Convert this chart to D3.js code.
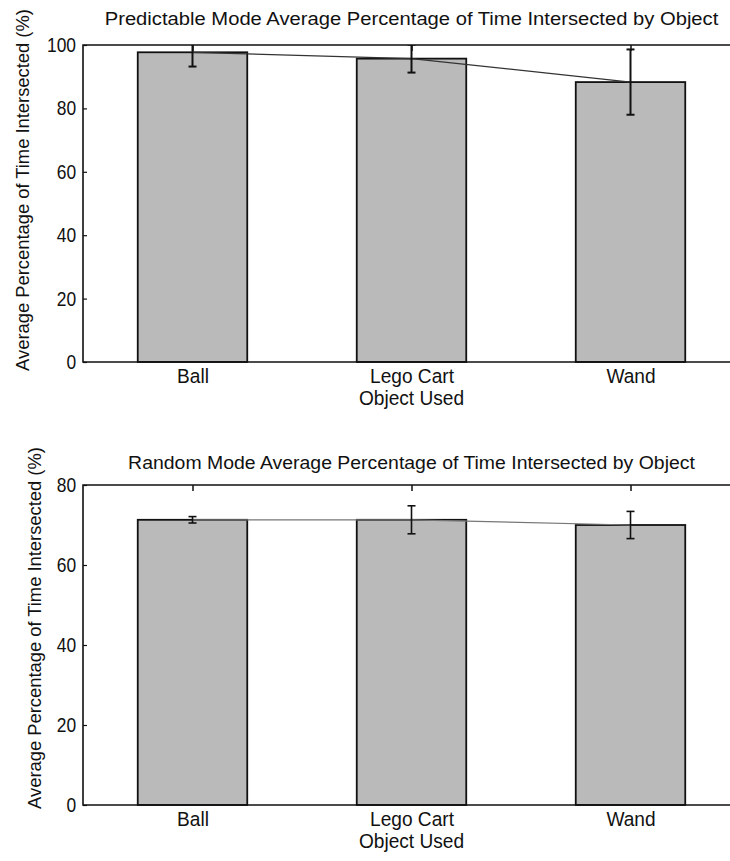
<!DOCTYPE html>
<html>
<head>
<meta charset="utf-8">
<script src="https://cdn.jsdelivr.net/npm/d3@7/dist/d3.min.js"></script>
<style>
	body { margin: 0; background: #fff; }
	svg { display: block; }
	text { font-family: "Liberation Sans", Arial, sans-serif; fill: #111; }
</style>
</head>
<body>
<svg id="chart" width="730" height="861"></svg>
<script>
// data
const objects = ['Ball', 'Lego Cart', 'Wand'];

const predictableMean = [97.7, 95.7, 88.3];
const predictableErr = [4.5, 4.4, 10.3];

const randomMean = [71.3, 71.3, 70.0];
const randomErr = [0.8, 3.5, 3.4];

const predictableTicks = [0, 20, 40, 60, 80, 100];
const randomTicks = [0, 20, 40, 60, 80];

const svg = d3.select('#chart');
const squeeze = 0.87;

// squash a text horizontally around its anchor point, the scan looks narrow
function narrow(sel, sx) {
	sel.each(function() {
		let t = d3.select(this),
			x = +t.attr('x') || 0,
			y = +t.attr('y') || 0;
		t.attr('x', 0).attr('y', 0)
			.attr('transform', `translate(${x}, ${y}) scale(${sx}, 1)`);
	});
}

// fit a text to a given length by horizontal scale
function fitWidth(sel, w) {
	let len = sel.node().getComputedTextLength();
	narrow(sel, w / len);
}

function drawPanel(opt) {
	let left = 83, right = 740,
		top = opt.top, bottom = opt.bottom;

	let x = d3.scaleLinear().domain([0.5, 3.5]).range([left, right]),
		y = d3.scaleLinear().domain([0, opt.max]).range([bottom, top]);

	let g = svg.append('g');

	let clipId = 'clip' + opt.id;
	g.append('clipPath').attr('id', clipId)
		.append('rect')
		.attr('x', left).attr('y', top)
		.attr('width', right - left).attr('height', bottom - top);

	// bars are half a category wide
	let barW = x(1.5) - x(1);

	g.selectAll('rect.bar')
		.data(opt.mean)
		.enter()
		.append('rect')
		.attr('class', 'bar')
		.attr('x', (d, i) => x(i + 1) - barW / 2)
		.attr('y', d => y(d))
		.attr('width', barW)
		.attr('height', d => y(0) - y(d))
		.attr('fill', '#bababa')
		.attr('stroke', '#111')
		.attr('stroke-width', 1.8);

	// line joining the means
	let line = d3.line()
		.x((d, i) => x(i + 1))
		.y(d => y(d));

	g.append('path')
		.datum(opt.mean)
		.attr('fill', 'none')
		.attr('stroke', opt.lineColor)
		.attr('stroke-width', 1.2)
		.attr('d', line);

	// error bars, clipped to the axes box
	let eb = g.append('g').attr('clip-path', `url(#${clipId})`)
		.selectAll('g.err')
		.data(opt.mean)
		.enter()
		.append('g')
		.attr('class', 'err')
		.attr('stroke', '#111')
		.attr('stroke-width', opt.errWidth);

	eb.append('line')
		.attr('x1', (d, i) => x(i + 1))
		.attr('x2', (d, i) => x(i + 1))
		.attr('y1', (d, i) => y(d + opt.err[i]))
		.attr('y2', (d, i) => y(d - opt.err[i]));

	[1, -1].forEach(s => {
		eb.append('line')
			.attr('x1', (d, i) => x(i + 1) - 4)
			.attr('x2', (d, i) => x(i + 1) + 4)
			.attr('y1', (d, i) => y(d + s * opt.err[i]))
			.attr('y2', (d, i) => y(d + s * opt.err[i]));
	});

	// axes box
	g.append('path')
		.attr('fill', 'none')
		.attr('stroke', '#111')
		.attr('stroke-width', 1.6)
		.attr('d', `M${right},${top}H${left}V${bottom}H${right}`);

	let yAxis = g.append('g')
		.attr('transform', `translate(${left}, 0)`)
		.call(d3.axisLeft(y).tickValues(opt.ticks).tickFormat(d3.format('d'))
			.tickSizeInner(-4).tickSizeOuter(0).tickPadding(8));
	yAxis.select('.domain').remove();
	yAxis.selectAll('line').attr('stroke', '#111').attr('stroke-width', 1.2);
	yAxis.selectAll('text')
		.attr('font-size', 20)
		.attr('font-family', '"Liberation Sans", Arial, sans-serif')
		.attr('fill', '#111')
		.attr('transform', `scale(${squeeze}, 1)`);

	// top ticks, pointing into the box
	let topAxis = g.append('g')
		.attr('transform', `translate(0, ${top})`)
		.call(d3.axisTop(x).tickValues([1, 2, 3]).tickFormat('')
			.tickSizeInner(-6).tickSizeOuter(0));
	topAxis.select('.domain').remove();
	topAxis.selectAll('line').attr('stroke', '#111').attr('stroke-width', 1.5);

	let xAxis = g.append('g')
		.attr('transform', `translate(0, ${bottom})`)
		.call(d3.axisBottom(x).tickValues([1, 2, 3]).tickFormat(d => objects[d - 1])
			.tickSizeInner(0).tickSizeOuter(0).tickPadding(0));
	xAxis.select('.domain').remove();
	xAxis.selectAll('text')
		.attr('font-size', 19.5)
		.attr('font-family', '"Liberation Sans", Arial, sans-serif')
		.attr('fill', '#111')
		.attr('dy', null)
		.attr('y', opt.tickLabelY);
	narrow(xAxis.selectAll('text'), 0.98);

	g.append('text')
		.attr('x', x(2))
		.attr('y', bottom + opt.xTitleY)
		.attr('text-anchor', 'middle')
		.attr('font-size', 19.5)
		.text('Object Used')
		.call(narrow, 0.98);

	g.append('text')
		.attr('x', (left + right) / 2)
		.attr('y', opt.titleY)
		.attr('text-anchor', 'middle')
		.attr('font-size', 18.5)
		.text(opt.title)
		.call(fitWidth, opt.titleW);

	let yl = g.append('text')
		.attr('text-anchor', 'middle')
		.attr('font-size', 19)
		.text('Average Percentage of Time Intersected (%)');
	let len = yl.node().getComputedTextLength();
	yl.attr('transform',
		`translate(${opt.yLabelX}, ${opt.yLabelY}) rotate(-90) scale(${opt.yLabelLen / len}, 1)`);
}

drawPanel({
	id: 'top',
	top: 45,
	bottom: 362,
	max: 100,
	ticks: predictableTicks,
	mean: predictableMean,
	err: predictableErr,
	lineColor: '#333',
	errWidth: 2,
	title: 'Predictable Mode Average Percentage of Time Intersected by Object',
	titleY: 25,
	titleW: 614,
	tickLabelY: 21,
	xTitleY: 43,
	yLabelX: 29,
	yLabelY: 190,
	yLabelLen: 362
});

drawPanel({
	id: 'bottom',
	top: 485,
	bottom: 805,
	max: 80,
	ticks: randomTicks,
	mean: randomMean,
	err: randomErr,
	lineColor: '#777',
	errWidth: 1.6,
	title: 'Random Mode Average Percentage of Time Intersected by Object',
	titleY: 469,
	titleW: 567,
	tickLabelY: 21,
	xTitleY: 43,
	yLabelX: 41,
	yLabelY: 628,
	yLabelLen: 362
});
</script>
</body>
</html>
